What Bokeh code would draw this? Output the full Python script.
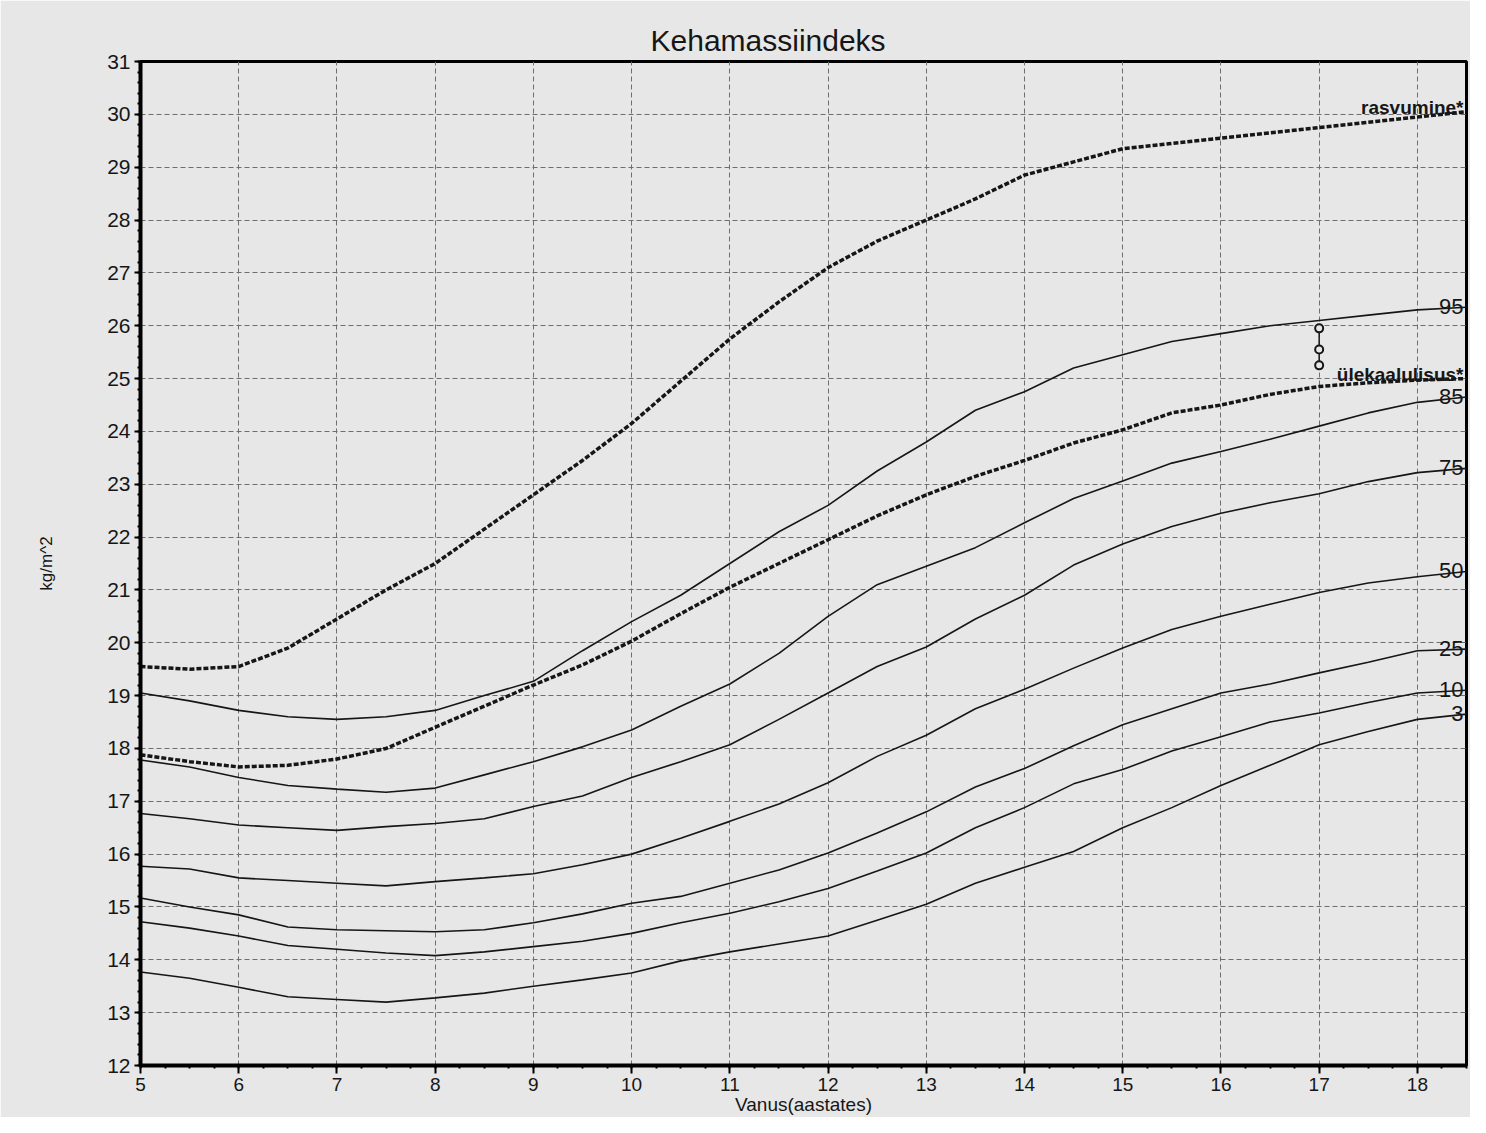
from bokeh.plotting import figure
from bokeh.models import Label, Range1d, SingleIntervalTicker
from bokeh.embed import file_html
from bokeh.resources import INLINE

# ---- data ----
ages = [5, 5.5, 6, 6.5, 7, 7.5, 8, 8.5, 9, 9.5, 10, 10.5, 11, 11.5, 12, 12.5,
        13, 13.5, 14, 14.5, 15, 15.5, 16, 16.5, 17, 17.5, 18, 18.5]

rasvumine = [19.55, 19.5, 19.55, 19.9, 20.45, 21.0, 21.5, 22.15, 22.8, 23.45, 24.15, 24.95,
             25.75, 26.45, 27.1, 27.6, 28.0, 28.4, 28.85, 29.1, 29.35, 29.45, 29.55, 29.65,
             29.75, 29.85, 29.95, 30.05]
ylekaal = [17.88, 17.75, 17.65, 17.68, 17.8, 18.0, 18.4, 18.8, 19.2, 19.58, 20.03, 20.55,
           21.05, 21.5, 21.95, 22.4, 22.8, 23.15, 23.45, 23.78, 24.03, 24.35, 24.5, 24.7,
           24.85, 24.92, 24.97, 25.0]
p95 = [19.05, 18.9, 18.72, 18.6, 18.55, 18.6, 18.72, 19.0, 19.27, 19.85, 20.4, 20.9,
       21.5, 22.1, 22.6, 23.25, 23.8, 24.4, 24.75, 25.2, 25.45, 25.7, 25.85, 26.0,
       26.1, 26.2, 26.3, 26.35]
p85 = [17.78, 17.65, 17.45, 17.3, 17.23, 17.17, 17.25, 17.5, 17.75, 18.03, 18.35, 18.8,
       19.22, 19.8, 20.5, 21.1, 21.45, 21.8, 22.27, 22.73, 23.06, 23.4, 23.62, 23.85,
       24.1, 24.35, 24.55, 24.65]
p75 = [16.77, 16.67, 16.55, 16.5, 16.45, 16.52, 16.58, 16.67, 16.9, 17.1, 17.45, 17.75,
       18.07, 18.55, 19.05, 19.55, 19.92, 20.45, 20.9, 21.47, 21.87, 22.2, 22.45, 22.65,
       22.82, 23.05, 23.22, 23.3]
p50 = [15.77, 15.72, 15.55, 15.5, 15.45, 15.4, 15.48, 15.55, 15.63, 15.8, 16.0, 16.3,
       16.62, 16.95, 17.35, 17.85, 18.25, 18.75, 19.12, 19.52, 19.9, 20.25, 20.5, 20.73,
       20.95, 21.13, 21.25, 21.35]
p25 = [15.17, 15.0, 14.85, 14.62, 14.57, 14.55, 14.53, 14.57, 14.7, 14.87, 15.07, 15.2,
       15.45, 15.7, 16.02, 16.4, 16.8, 17.27, 17.62, 18.05, 18.45, 18.75, 19.05, 19.22,
       19.43, 19.63, 19.85, 19.88]
p10 = [14.72, 14.6, 14.45, 14.27, 14.2, 14.13, 14.08, 14.15, 14.25, 14.35, 14.5, 14.7,
       14.88, 15.1, 15.35, 15.68, 16.02, 16.5, 16.88, 17.33, 17.6, 17.95, 18.22, 18.5,
       18.67, 18.87, 19.05, 19.1]
p3 = [13.77, 13.65, 13.48, 13.3, 13.25, 13.2, 13.28, 13.37, 13.5, 13.62, 13.75, 13.98,
      14.15, 14.3, 14.45, 14.75, 15.05, 15.45, 15.75, 16.05, 16.5, 16.88, 17.3, 17.68,
      18.07, 18.32, 18.55, 18.65]

patient_age = [17, 17, 17]
patient_bmi = [25.95, 25.55, 25.25]

percentile_names = ["95", "85", "75", "50", "25", "10", "3"]
percentile_series = [p95, p85, p75, p50, p25, p10, p3]
threshold_names = ["rasvumine*", "ülekaalulisus*"]
threshold_series = [rasvumine, ylekaal]

FONT = "Liberation Sans"
BG = "#e7e7e7"
INK = "#161616"

p = figure(width=1470, height=1117,
           x_range=Range1d(5, 18.5), y_range=Range1d(12, 31),
           output_backend="svg", toolbar_location=None,
           title="Kehamassiindeks",
           min_border_left=140, min_border_right=4, min_border_top=61, min_border_bottom=50)

p.background_fill_color = BG
p.border_fill_color = BG
p.outline_line_color = "black"
p.outline_line_width = 3

p.title.text_font = FONT
p.title.text_font_size = "30px"
p.title.text_font_style = "normal"
p.title.text_color = INK
p.title.align = "left"
p.title.offset = 510

p.xaxis.ticker = SingleIntervalTicker(interval=1, num_minor_ticks=4)
p.yaxis.ticker = SingleIntervalTicker(interval=1, num_minor_ticks=5)

for ax in (p.xaxis[0], p.yaxis[0]):
    ax.axis_line_width = 4
    ax.axis_line_color = "black"
    ax.major_tick_line_color = "black"
    ax.major_tick_line_width = 2
    ax.minor_tick_line_color = "black"
    ax.minor_tick_line_width = 2
    ax.major_tick_in = 0
    ax.minor_tick_in = 0
    ax.major_label_text_font = FONT
    ax.major_label_text_color = INK
    ax.axis_label_text_font = FONT
    ax.axis_label_text_font_style = "normal"
    ax.axis_label_text_color = INK

p.xaxis.major_tick_out = 8
p.xaxis.minor_tick_out = 3
p.xaxis.major_label_text_font_size = "19px"
p.xaxis.major_label_standoff = 4
p.xaxis.axis_label = "Vanus(aastates)"
p.xaxis.axis_label_text_font_size = "19px"
p.xaxis.axis_label_standoff = 0

p.yaxis.major_tick_out = 6
p.yaxis.minor_tick_out = 3
p.yaxis.major_label_text_font_size = "21px"
p.yaxis.major_label_standoff = 4
p.yaxis.axis_label = "kg/m^2"
p.yaxis.axis_label_text_font_size = "17px"
p.yaxis.axis_label_standoff = 48

p.xgrid.grid_line_color = "#6e6e6e"
p.ygrid.grid_line_color = "#6e6e6e"
p.xgrid.grid_line_dash = "5 3"
p.ygrid.grid_line_dash = "5 3"
p.xgrid.grid_line_width = 1
p.ygrid.grid_line_width = 1

# percentile curves (solid)
for vals in percentile_series:
    p.line(ages, vals, line_color=INK, line_width=1.6)

# overweight / obesity thresholds (heavy dashed)
for vals in threshold_series:
    p.line(ages, vals, line_color=INK, line_width=3.5, line_dash="5 2")

# patient measurements
p.line(patient_age, patient_bmi, line_color=INK, line_width=1.5)
p.scatter(patient_age, patient_bmi, size=8, marker="circle",
          fill_color=BG, line_color=INK, line_width=2)

# end labels (one Label per curve, anchored at the curve's last point, kept inside the frame)
for name, vals in zip(percentile_names, percentile_series):
    p.add_layout(Label(x=ages[-1], y=vals[-1], text=name,
                       text_align="right", text_baseline="alphabetic",
                       x_offset=-3, y_offset=1,
                       text_font=FONT, text_font_size="22px", text_color=INK))
for name, vals in zip(threshold_names, threshold_series):
    p.add_layout(Label(x=ages[-1], y=vals[-1], text=name,
                       text_align="right", text_baseline="alphabetic",
                       x_offset=-3, y_offset=4,
                       text_font=FONT, text_font_size="19px", text_font_style="bold",
                       text_color=INK))

open("out.html", "w").write(file_html(p, INLINE))
